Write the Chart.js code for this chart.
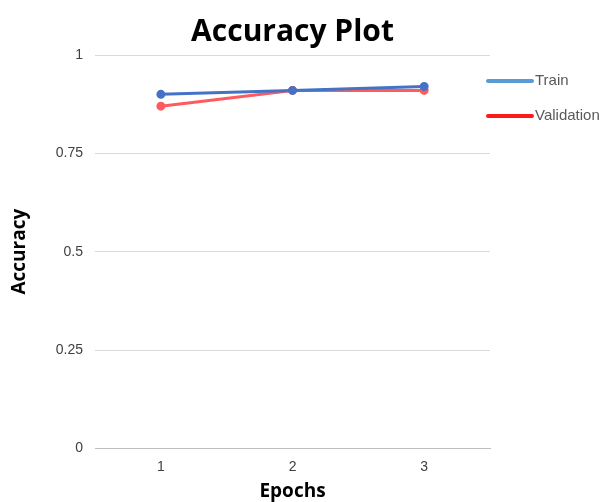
<!DOCTYPE html>
<html>
<head>
<meta charset="utf-8">
<script src="https://cdn.jsdelivr.net/npm/chart.js@4/dist/chart.umd.min.js"></script>
<style>
  body { margin: 0; background: #fff; }
  #wrap { width: 616px; height: 502px; }
</style>
</head>
<body>
<div id="wrap"><canvas id="AccuracyChart" width="616" height="502"></canvas></div>
<script>
const epochs = ['1', '2', '3'];
const train_acc = [0.90, 0.91, 0.92];
const validation_acc = [0.87, 0.91, 0.91];

// legend drawn to the right of the plot, like the original
const sideLegend = {
    id: 'sideLegend',
    afterDraw(chart) {
        const ctx = chart.ctx;
        const area = chart.chartArea;
        ctx.save();
        ctx.font = '15px "Liberation Sans", Arial, sans-serif';
        ctx.textBaseline = 'middle';
        chart.data.datasets.forEach((ds, i) => {
            const y = area.top + 26 + i * 35;
            const x = area.right - 2;
            ctx.strokeStyle = ds.legendColor;
            ctx.lineWidth = 4;
            ctx.lineCap = 'round';
            ctx.beginPath();
            ctx.moveTo(x, y);
            ctx.lineTo(x + 44, y);
            ctx.stroke();
            ctx.fillStyle = '#595959';
            ctx.fillText(ds.label, x + 47, y);
        });
        ctx.restore();
    }
};

const ctx = document.getElementById('AccuracyChart').getContext('2d');
const data = {
    labels: epochs,
    datasets: [
        {
            label: 'Train',
            data: train_acc,
            borderColor: '#4472C4',
            backgroundColor: '#4472C4',
            legendColor: '#5B9BD5',
            borderWidth: 3,
            pointRadius: 3,
            fill: false,
            tension: 0
        },
        {
            label: 'Validation',
            data: validation_acc,
            borderColor: '#FF5B5F',
            backgroundColor: '#FF5B5F',
            legendColor: '#FF1A1A',
            borderWidth: 3,
            pointRadius: 3,
            fill: false,
            tension: 0
        }
    ]
};
const chart = new Chart(ctx, {
    type: 'line',
    data: data,
    plugins: [sideLegend],
    options: {
        responsive: false,
        animation: false,
        layout: { padding: { left: 8, right: 126, top: 14, bottom: -1 } },
        plugins: {
            legend: { display: false },
            tooltip: { enabled: false },
            title: {
                display: true,
                fullSize: false,
                text: 'Accuracy Plot',
                color: '#000',
                font: { family: '"Open Sans", sans-serif', size: 30, weight: 'bold' },
                padding: { top: 0, bottom: 5 }
            }
        },
        scales: {
            x: {
                offset: true,
                grid: { display: false },
                border: { display: true, color: '#bfbfbf', width: 1 },
                ticks: { color: '#404040', font: { family: '"Liberation Sans", Arial', size: 14 }, padding: 2 },
                title: {
                    display: true,
                    text: 'Epochs',
                    color: '#000',
                    font: { family: '"Open Sans", sans-serif', size: 19, weight: 'bold' },
                    padding: { top: 3, bottom: 0 }
                }
            },
            y: {
                min: 0,
                max: 1,
                ticks: {
                    stepSize: 0.25,
                    color: '#404040',
                    font: { family: '"Liberation Sans", Arial', size: 14 },
                    padding: 12,
                    callback: v => String(v)
                },
                grid: { color: '#d9d9d9', drawTicks: false },
                border: { display: false },
                title: {
                    display: true,
                    text: 'Accuracy',
                    color: '#000',
                    font: { family: '"Open Sans", sans-serif', size: 19, weight: 'bold' },
                    padding: { top: 0, bottom: 13 }
                }
            }
        }
    }
});
</script>
</body>
</html>
